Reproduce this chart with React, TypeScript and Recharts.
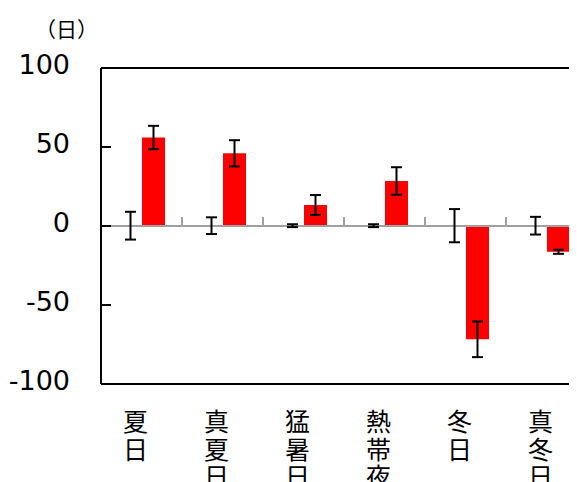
import { BarChart, Bar, XAxis, YAxis, ErrorBar, ReferenceLine } from 'recharts'

const categories = ['夏日', '真夏日', '猛暑日', '熱帯夜', '冬日', '真冬日']
const baseValues = [0.2, 0.2, 0.2, 0.2, 0.2, 0.2]
const baseErrors = [8.8, 5.3, 0.9, 0.9, 10.5, 5.6]
const changeValues = [56, 46, 13.3, 28.5, -71.7, -16.3]
const changeErrors = [7.4, 8.3, 6.3, 8.7, 11.3, 1.3]
const yTicks = [-100, -50, 0, 50, 100]

const data = categories.map((name, i) => ({
  name,
  base: baseValues[i],
  baseErr: baseErrors[i],
  change: changeValues[i],
  changeErr: changeErrors[i],
}))

const jpFont = "'Noto Sans CJK JP', sans-serif"

function YTick({ x, y, payload }: any) {
  return (
    <g>
      <line x1={x + 31} x2={x + 41} y1={y} y2={y} stroke="#000" strokeWidth={2} />
      <text x={x} y={y} dy={-4} textAnchor="end" dominantBaseline="central" fontSize={27} fontFamily="'DejaVu Sans', sans-serif" fill="#000">
        {payload.value}
      </text>
    </g>
  )
}

function XTick({ x, y, payload }: any) {
  const chars = Array.from(String(payload.value))
  return (
    <text x={x - 6} y={y} textAnchor="middle" fontSize={25} fontFamily={jpFont} fill="#000">
      {chars.map((c, i) => (
        <tspan key={i} x={x - 6} dy={i === 0 ? 47 : 27.5}>{c}</tspan>
      ))}
    </text>
  )
}

// zero line with small upward ticks between the categories
function ZeroLine(props: any) {
  const { x1, x2, y1 } = props
  const step = (x2 - x1) / categories.length
  return (
    <g>
      <line x1={x1} x2={x2} y1={y1} y2={y1} stroke="#a0a0a0" strokeWidth={2} />
      {categories.map((_, i) => (
        <line key={i} x1={x1 + step * (i + 1)} x2={x1 + step * (i + 1)} y1={y1} y2={y1 - 9} stroke="#a0a0a0" strokeWidth={2} />
      ))}
    </g>
  )
}

export default function App() {
  return (
    <div style={{ position: 'relative', width: 569, height: 474, overflow: 'hidden' }}>
      <div style={{ position: 'absolute', left: 27, top: 10, fontSize: 21, lineHeight: '21px', fontFamily: jpFont }}>（日）</div>
      <BarChart width={600} height={474} data={data} margin={{ top: 60, right: 21, bottom: 0, left: 0 }} barGap={0} barSize={23}>
        <XAxis dataKey="name" height={98} tickLine={false} tickSize={0} tickMargin={0} axisLine={{ stroke: '#000', strokeWidth: 2 }} tick={<XTick />} interval={0} />
        <YAxis width={93} domain={[-100, 100]} ticks={yTicks} tickLine={false} tickSize={0} tickMargin={31} axisLine={{ stroke: '#000', strokeWidth: 2 }} tick={<YTick />} />
        <ReferenceLine y={100} stroke="#000" strokeWidth={2} />
        <ReferenceLine y={0} shape={<ZeroLine />} />
        <Bar dataKey="base" fill="#a0a0a0" isAnimationActive={false}>
          <ErrorBar dataKey="baseErr" width={5.5} stroke="#000" strokeWidth={2} />
        </Bar>
        <Bar dataKey="change" fill="#ff0000" isAnimationActive={false}>
          <ErrorBar dataKey="changeErr" width={5.5} stroke="#000" strokeWidth={2} />
        </Bar>
      </BarChart>
    </div>
  )
}
